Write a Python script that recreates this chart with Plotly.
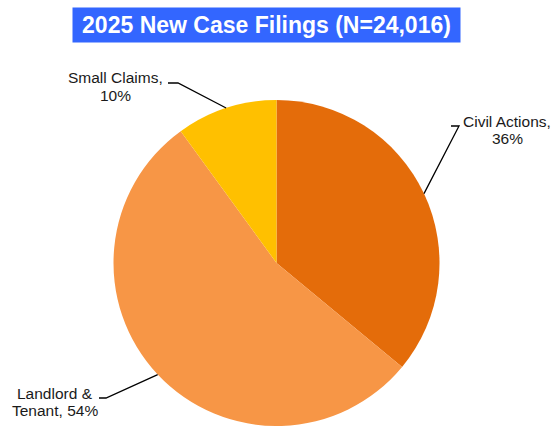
import math
import plotly.graph_objects as go

categories = ["Civil Actions", "Landlord & Tenant", "Small Claims"]
values = [36, 54, 10]
colors = ["#E46C0A", "#F79646", "#FFC000"]
label_lines = [["Civil Actions,", "36%"], ["Landlord &", "Tenant, 54%"], ["Small Claims,", "10%"]]
title_text = "2025 New Case Filings (N=24,016)"

W, H = 553, 426
TOP = 100  # pie domain top in px
dom_top = 1 - TOP / H

fig = go.Figure(go.Pie(
    labels=categories, values=values, sort=False, direction="clockwise", rotation=0,
    marker=dict(colors=colors, line=dict(width=0)),
    textinfo="none", hoverinfo="label+percent", showlegend=False,
    domain=dict(x=[0, 1], y=[0, dom_top]),
))

# pie geometry in px (derived from domain)
r = min(W, H - TOP) / 2
cx, cy = W / 2, TOP + r

# label layout (px): text center x, first-line center y, elbow, line end
label_pos = {
    "Civil Actions": dict(tx=507, ty=121, elbow=(459, 126), end=(451, 126)),
    "Landlord & Tenant": dict(tx=55, ty=393, elbow=(106, 398), end=(99, 398)),
    "Small Claims": dict(tx=115, ty=78, elbow=(178, 83), end=(168, 83)),
}
PITCH = 17.5

def px(x, y):
    return x / W, 1 - y / H

total = sum(values)
cum = 0
shapes = []
annotations = []
for cat, v, lines in zip(categories, values, label_lines):
    mid = (cum + v / 2) / total * 2 * math.pi
    cum += v
    ex = cx + r * math.sin(mid)
    ey = cy - r * math.cos(mid)
    lp = label_pos[cat]
    pts = [(ex, ey), lp["elbow"], lp["end"]]
    path = "M " + " L ".join(f"{px(a, b)[0]},{px(a, b)[1]}" for a, b in pts)
    shapes.append(dict(type="path", path=path, xref="paper", yref="paper",
                       line=dict(color="black", width=1.3)))
    for i, line in enumerate(lines):
        x0, y0 = px(lp["tx"], lp["ty"] + i * PITCH)
        annotations.append(dict(text=line, x=x0, y=y0, xref="paper", yref="paper",
                                showarrow=False, xanchor="center", yanchor="middle",
                                font=dict(family="Liberation Sans, Arial", size=15.5, color="#1a1a1a")))

tx, ty = px(266.5, 25)
annotations.append(dict(text=f"<b>{title_text}</b>", x=tx, y=ty, xref="paper", yref="paper",
                        showarrow=False, xanchor="center", yanchor="middle",
                        bgcolor="#3366FF", borderpad=2, width=383, height=30, align="center",
                        font=dict(family="Liberation Sans, Arial", size=23, color="white")))

fig.update_layout(
    width=W, height=H, margin=dict(l=0, r=0, t=0, b=0),
    paper_bgcolor="white", plot_bgcolor="white",
    shapes=shapes, annotations=annotations,
)

fig.write_html("out.html", config={"displayModeBar": False},
               post_script="document.body.style.margin='0';document.body.style.overflow='hidden';")
